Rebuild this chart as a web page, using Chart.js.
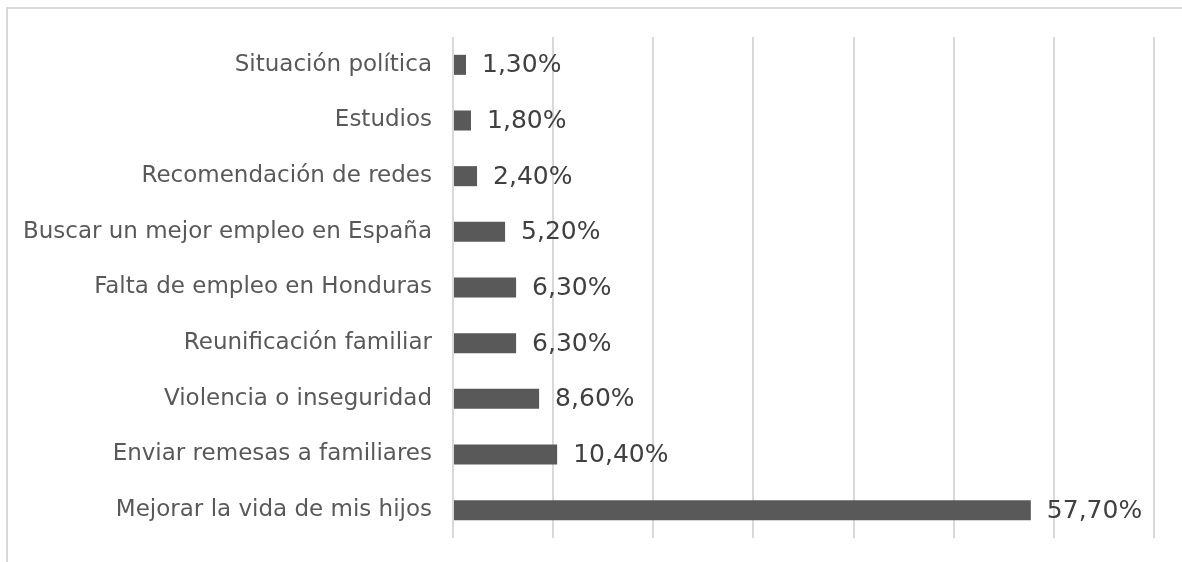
<!DOCTYPE html>
<html>
<head>
<meta charset="utf-8">
<script src="https://cdn.jsdelivr.net/npm/chart.js@4.4.1/dist/chart.umd.min.js"></script>
<style>
  html, body { margin: 0; padding: 0; background: #fff; overflow: hidden; }
  #wrap { position: relative; width: 1182px; height: 562px; }
  #frame { position: absolute; left: 6px; top: 7px; width: 1300px; height: 700px; border: 2px solid #d9d9d9; box-sizing: border-box; }
  canvas { position: absolute; left: 0; top: 0; }
</style>
</head>
<body>
<div id="wrap">
  <div id="frame"></div>
  <canvas id="chart" width="1182" height="562"></canvas>
</div>
<script>
// ── Data ──
const categories = [
  'Situación política',
  'Estudios',
  'Recomendación de redes',
  'Buscar un mejor empleo en España',
  'Falta de empleo en Honduras',
  'Reunificación familiar',
  'Violencia o inseguridad',
  'Enviar remesas a familiares',
  'Mejorar la vida de mis hijos'
];
const shares = [1.3, 1.8, 2.4, 5.2, 6.3, 6.3, 8.6, 10.4, 57.7];
const axisMax = 70;
const axisStep = 10;

const FONT = '"DejaVu Sans", sans-serif';

// ── Value labels after each bar ──
const valueLabels = {
  id: 'valueLabels',
  afterDatasetsDraw(chart) {
    const ctx = chart.ctx;
    const meta = chart.getDatasetMeta(0);
    ctx.save();
    ctx.font = '25px ' + FONT;
    ctx.fillStyle = '#404040';
    ctx.textAlign = 'left';
    ctx.textBaseline = 'middle';
    meta.data.forEach((bar, i) => {
      const txt = shares[i].toFixed(2).replace('.', ',') + '%';
      ctx.fillText(txt, bar.x + 16, bar.y + 1);
    });
    ctx.restore();
  }
};

new Chart(document.getElementById('chart'), {
  type: 'bar',
  data: {
    labels: categories,
    datasets: [{
      data: shares,
      backgroundColor: '#595959',
      borderWidth: 0,
      barPercentage: 0.9,
      categoryPercentage: 0.4
    }]
  },
  options: {
    indexAxis: 'y',
    responsive: false,
    animation: false,
    layout: { padding: { top: 37, right: 28, left: 0, bottom: 0 } },
    plugins: { legend: { display: false }, tooltip: { enabled: false } },
    scales: {
      x: {
        min: 0,
        max: axisMax,
        ticks: { display: false, stepSize: axisStep },
        grid: { color: '#d9d9d9', lineWidth: 2, drawTicks: false },
        border: { display: false },
        afterFit: s => { s.height = 24; }
      },
      y: {
        ticks: { color: '#595959', font: { size: 23, family: FONT }, padding: 21 },
        grid: { display: false, drawTicks: false },
        border: { display: false },
        afterFit: s => { s.width = 453; s.paddingTop = 0; s.paddingBottom = 0; }
      }
    }
  },
  plugins: [valueLabels]
});
</script>
</body>
</html>
